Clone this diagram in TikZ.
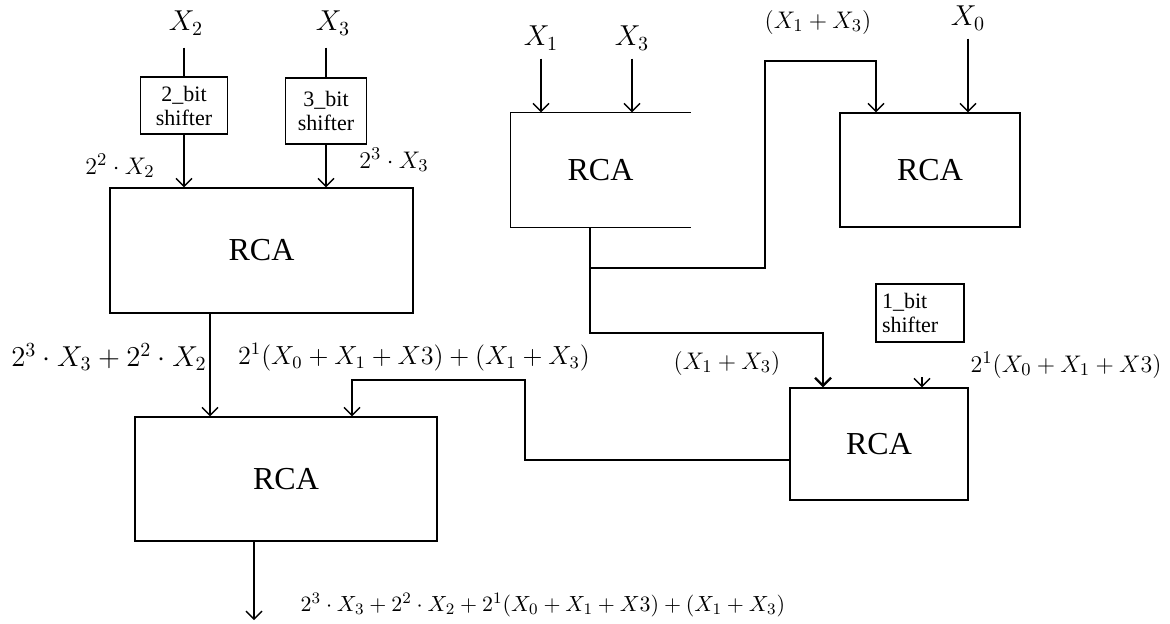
\documentclass[tikz,border=0pt]{standalone}
\usepackage{fontspec}
\setmainfont{Liberation Serif}
\usetikzlibrary{arrows.meta}

\tikzset{blk/.style={draw,inner sep=0pt,font=\fontsize{16}{18}\selectfont},
  shft/.style={draw,inner sep=2pt,align=center,font=\fontsize{11}{12}\selectfont},
  lbl/.style={inner sep=0pt,font=\fontsize{14}{16}\selectfont}}

\begin{document}
\begin{tikzpicture}[x=.5pt,y=-.5pt,>={Straight Barb[length=4pt,width=8pt]},line width=.7pt]
\useasboundingbox (0,0) rectangle (1170,623);
% left tree: shifters and two adders
\node[lbl] (x2) at (186,23){$X_2$};\node[lbl] (x3) at (333,23){$X_3$};
\node[shft,minimum width=43.5pt,minimum height=28.5pt] (s2) at (184,105.5){2\_bit\\shifter};
\node[shft,minimum width=40.5pt,minimum height=33pt] (s3) at (326,111){3\_bit\\shifter};
\draw ([yshift=-6pt]x2.south -| s2.north)--(s2.north);\draw ([yshift=-6pt]x3.south -| s3.north)--(s3.north);
\node[blk,minimum width=151.5pt,minimum height=62.5pt] (ra) at (261.5,250.5){RCA};
\draw[->] (s2.south)--(s2.south |- ra.north);\draw[->] (s3.south)--(s3.south |- ra.north);
\node[lbl,font=\fontsize{13}{15}\selectfont] (l22) at (120,166){$2^2\cdot X_2$};
\node[lbl,font=\fontsize{13}{15}\selectfont] (l33) at (394,160){$2^3\cdot X_3$};
\node[blk,minimum width=151pt,minimum height=62pt] (rb) at (286,479){RCA};
\coordinate (ra-o) at (210,0);\draw[->] (ra.south -| ra-o)--(rb.north -| ra-o);
\node[lbl] (lsa) at (109,357){$2^3\cdot X_3+2^2\cdot X_2$};
\node[lbl,font=\fontsize{12}{15}\selectfont] (lsb) at (414,357){\scalebox{1.09}{$2^1(X_0+X_1+X3)+(X_1+X_3)$}};
\coordinate (rb-o) at (254,0);\coordinate (out) at (254,620);\draw[->] (rb.south -| rb-o)--(out);
\node[lbl,anchor=west,font=\fontsize{10.8}{13}\selectfont] (lout) at (300,605){$2^3\cdot X_3+2^2\cdot X_2+2^1(X_0+X_1+X3)+(X_1+X_3)$};
% right tree
\node[lbl] (x1) at (541,38){$X_1$};\node[lbl] (x3b) at (632,38){$X_3$};\node[lbl] (x0) at (968,18){$X_0$};
\node[lbl,font=\fontsize{12.5}{15}\selectfont] (lxt) at (818,22){$(X_1+X_3)$};
\node[blk,draw=none,minimum width=89.5pt,minimum height=57pt] (rc) at (600.5,170){RCA};
\draw (rc.north east)--(rc.north west)--(rc.south west)--(rc.south east);
\node[blk,minimum width=90pt,minimum height=57pt] (rd) at (930,170){RCA};
\draw[->] ([yshift=-4pt]x1.south)--(x1.south |- rc.north);\draw[->] ([yshift=-4pt]x3b.south)--(x3b.south |- rc.north);
\draw[->] ([yshift=-4pt]x0.south)--(x0.south |- rd.north);
\coordinate (j1) at (590,268);\coordinate (j2) at (765,61);\coordinate (j3) at (590,333);\coordinate (rd-a) at (876,0);
\draw (rc.south -| j1)--(j1);\draw[->] (j1) -| (j2) -| (rd.north -| rd-a);
\node[blk,minimum width=89pt,minimum height=56pt] (re) at (879,444){RCA};
\coordinate (re-a) at (823,0);\draw[->,line width=1.1pt] (j1)--(j3) -| (re.north -| re-a);
\node[shft,align=left,text width=38pt,inner sep=3pt,minimum height=29pt] (s1) at (920,313){1\_bit\\shifter};
\coordinate (re-b) at (922,0);\draw[->] ([yshift=5pt]re.north -| re-b)--(re.north -| re-b);
\node[lbl,font=\fontsize{12.4}{15}\selectfont] (lxb) at (727,363){$(X_1+X_3)$};
\node[lbl,font=\fontsize{12.5}{15}\selectfont] (l21) at (1066,365){$2^1(X_0+X_1+X3)$};
\coordinate (fb) at (525,380);\coordinate (rb-a) at (352,0);
\draw[->] ([yshift=-8pt]re.west) -| (fb) -| (rb.north -| rb-a);
\end{tikzpicture}
\end{document}
